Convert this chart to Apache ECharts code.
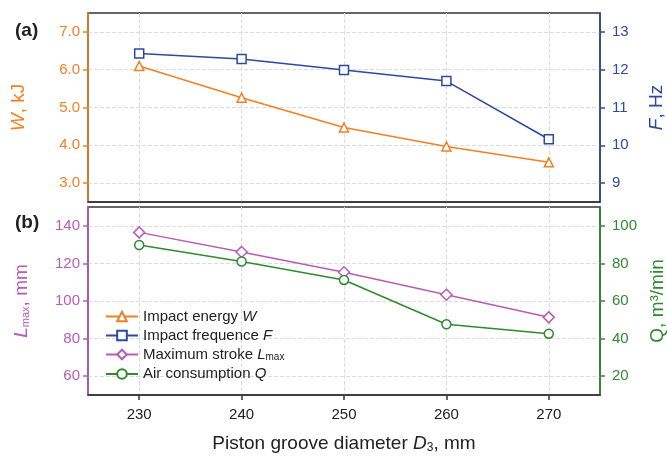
<!DOCTYPE html>
<html lang="en">
<head>
    <meta charset="UTF-8">
    <title>Piston groove diameter</title>
    <script src="https://cdn.jsdelivr.net/npm/echarts@6/dist/echarts.min.js"></script>
</head>
<style>
    *{
        margin: 0;
        padding: 0;
    }
    html , body{
        width: 100%;
        height: 100%;
        overflow: hidden;
        background: #fff;
    }
    .container{
        width: 667px;
        height: 465px;
    }
</style>
<body>
<div class="container"></div>
<script>
    // piston groove diameter D3, mm
    let diameters=[230,240,250,260,270];
    let energyW=[6.10,5.26,4.47,3.97,3.55];      // kJ
    let frequenceF=[12.43,12.28,11.99,11.70,10.16]; // Hz
    let strokeL=[136.5,126.1,115.3,103.3,91.3];  // mm
    let airQ=[89.8,81.0,71.2,47.6,42.6];         // m3/min

    const ORANGE='#F27F22', BLUE='#2B4AA0', PURPLE='#B75CB6', GREEN='#2F8A30';
    const FONT='Liberation Sans';

    let mycharts=echarts.init(document.querySelector('.container'));

    function pairs(ys){
        return diameters.map((x,i)=>[x,ys[i]]);
    }
    function lineSeries(name,color,symbol,ys,xi,yi){
        return {
            name,
            type:'line',
            xAxisIndex:xi,
            yAxisIndex:yi,
            data:pairs(ys),
            symbol,
            symbolSize:symbol=='diamond'?11:9,
            color,
            itemStyle:{color:'#fff',borderColor:color,borderWidth:1.5},
            lineStyle:{color,width:1.5},
            emphasis:{disabled:true}
        }
    }
    const dash={show:true,showMinLine:false,showMaxLine:false,lineStyle:{color:'#dcdcdc',type:'dashed',width:1}};
    function yAxis(opt){
        let c=opt.color;
        let right=opt.rest.position=='right';
        return Object.assign({
            type:'value',
            splitNumber:5,
            axisLine:{show:true,lineStyle:{color:c,width:1.5}},
            axisTick:{show:true,length:5,lineStyle:{color:c,width:1.5}},
            axisLabel:{color:c,fontSize:15,fontFamily:FONT,margin:right?12:8,showMinLabel:false,showMaxLabel:false},
            splitLine:{show:false},
            nameLocation:'middle',
            nameRotate:90,
            nameTextStyle:{color:c,fontSize:19,fontFamily:FONT,
                rich:{
                    i:{fontStyle:'italic',color:c,fontSize:19,fontFamily:FONT},
                    n:{color:c,fontSize:19,fontFamily:FONT},
                    sub:{color:c,fontSize:11,fontFamily:FONT,verticalAlign:'bottom',padding:[8,0,0,0]}
                }}
        },opt.rest);
    }
    function xAxis(gi,showLabels){
        return {
            type:'value',
            gridIndex:gi,
            min:225,
            max:275,
            splitNumber:5,
            axisLine:{show:true,lineStyle:{color:'#333',width:1.5}},
            axisTick:{show:showLabels,length:5,lineStyle:{color:'#333',width:1.5}},
            axisLabel:{show:showLabels,color:'#222',fontSize:15,fontFamily:FONT,margin:12,showMinLabel:false,showMaxLabel:false},
            splitLine:dash
        }
    }

    let option={
        backgroundColor:'#fff',
        animation:false,
        title:[
            {text:'(a)',left:10,top:16,textStyle:{fontSize:19,fontWeight:'bold',color:'#222',fontFamily:FONT}},
            {text:'(b)',left:10,top:208,textStyle:{fontSize:19,fontWeight:'bold',color:'#222',fontFamily:FONT}}
        ],
        grid:[
            {left:88,right:67,top:13,height:189,show:true,borderColor:'#333',borderWidth:1.5,outerBoundsMode:'none'},
            {left:88,right:67,top:207,height:188,show:true,borderColor:'#333',borderWidth:1.5,outerBoundsMode:'none'}
        ],
        xAxis:[
            xAxis(0,false),
            Object.assign(xAxis(1,true),{
                name:'Piston groove diameter {i|D}{sub|3}, mm',
                nameLocation:'middle',
                nameGap:39,
                nameTextStyle:{color:'#222',fontSize:19,fontFamily:FONT,
                    rich:{
                        i:{fontStyle:'italic',color:'#222',fontSize:19,fontFamily:FONT},
                        sub:{color:'#222',fontSize:12,fontFamily:FONT,verticalAlign:'bottom',padding:[8,0,0,0]}
                    }}
            })
        ],
        yAxis:[
            yAxis({color:ORANGE,rest:{gridIndex:0,position:'left',min:2.5,max:7.5,name:'{i|W}, kJ',nameGap:60,
                splitLine:dash,axisLabel:{color:ORANGE,fontSize:15,fontFamily:FONT,margin:8,showMinLabel:false,showMaxLabel:false,formatter:v=>v.toFixed(1)}}}),
            yAxis({color:BLUE,rest:{gridIndex:0,position:'right',min:8.5,max:13.5,name:'{i|F}, Hz',nameGap:47}}),
            yAxis({color:PURPLE,rest:{gridIndex:1,position:'left',min:50,max:150,name:'{i|L}{sub|max}, mm',nameGap:57,splitLine:dash}}),
            yAxis({color:GREEN,rest:{gridIndex:1,position:'right',min:10,max:110,name:'Q, m³/min',nameGap:47}})
        ],
        legend:{
            orient:'vertical',
            left:100,
            top:304,
            itemWidth:32,
            itemHeight:12,
            itemGap:4,
            data:['W','F','L','Q'],
            formatter:function(n){
                return {
                    W:'Impact energy {i|W}',
                    F:'Impact frequence {i|F}',
                    L:'Maximum stroke {i|L}{sub|max}',
                    Q:'Air consumption {i|Q}'
                }[n];
            },
            textStyle:{color:'#222',fontSize:15,fontFamily:FONT,
                rich:{
                    i:{fontStyle:'italic',color:'#222',fontSize:15,fontFamily:FONT},
                    sub:{color:'#222',fontSize:10,fontFamily:FONT,verticalAlign:'bottom',padding:[6,0,0,0]}
                }}
        },
        series:[
            lineSeries('W',ORANGE,'triangle',energyW,0,0),
            lineSeries('F',BLUE,'rect',frequenceF,0,1),
            lineSeries('L',PURPLE,'diamond',strokeL,1,2),
            lineSeries('Q',GREEN,'circle',airQ,1,3)
        ]
    }
    mycharts.setOption(option);
</script>

</body>
</html>
